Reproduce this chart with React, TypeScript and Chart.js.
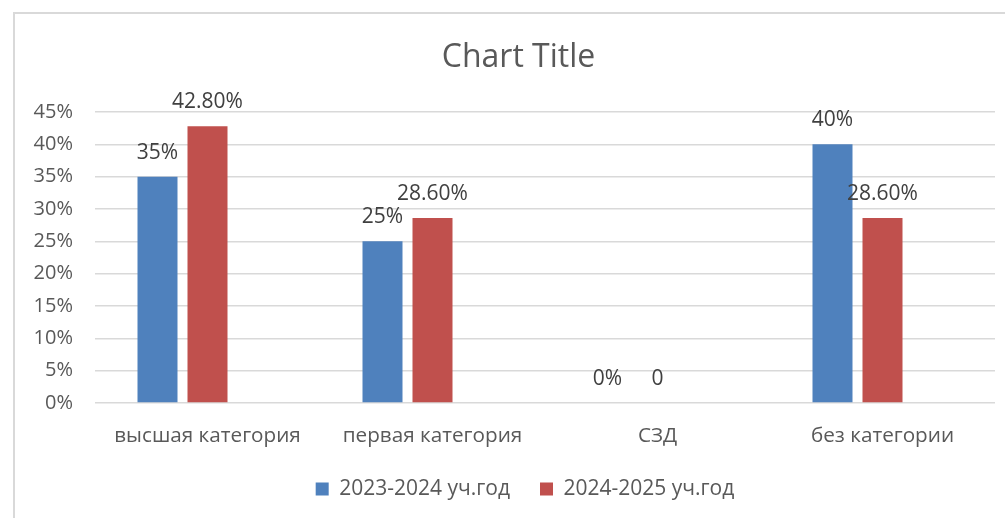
import React, { useEffect, useRef } from "react";
import { Chart, registerables } from "chart.js";

Chart.register(...registerables);

const categories = ["высшая категория", "первая категория", "СЗД", "без категории"];
const series2023 = [0.35, 0.25, 0, 0.4];
const series2025 = [0.428, 0.286, 0, 0.286];
const seriesEmpty: (number | null)[] = [null, null, null, null];
const seriesNames = ["2023-2024 уч.год", "2024-2025 уч.год", ""];
const yTicks = [0, 0.05, 0.1, 0.15, 0.2, 0.25, 0.3, 0.35, 0.4, 0.45];

const FONT = "'Open Sans', 'Noto Sans', sans-serif";

const fmtBlue = (v: number) => `${Math.round(v * 100)}%`;
const fmtRed = (v: number) => (v === 0 ? "0" : `${(v * 100).toFixed(2)}%`);

const dataLabels = {
  id: "dataLabels",
  afterDatasetsDraw(chart: any) {
    const ctx = chart.ctx;
    ctx.save();
    ctx.font = `21px ${FONT}`;
    ctx.fillStyle = "#404040";
    ctx.textAlign = "center";
    ctx.textBaseline = "middle";
    [0, 1].forEach((di) => {
      const meta = chart.getDatasetMeta(di);
      const values = chart.data.datasets[di].data as number[];
      meta.data.forEach((el: any, i: number) => {
        const v = values[i];
        const txt = di === 0 ? fmtBlue(v) : fmtRed(v);
        ctx.fillText(txt, el.x, el.y - 24);
      });
    });
    ctx.restore();
  },
};

const boxTweaks = {
  id: "boxTweaks",
  beforeInit(chart: any) {
    const lg = chart.legend;
    if (!lg) return;
    const orig = lg.fit;
    lg.fit = function () {
      orig.call(this);
      this.height = 69.5;
    };
  },
  afterLayout(chart: any) {
    if (chart.legend) chart.legend.left = 55;
    if (chart.titleBlock) chart.titleBlock.left = 42;
  },
};

export default function App() {
  const ref = useRef<HTMLCanvasElement | null>(null);
  useEffect(() => {
    if (!ref.current) return;
    Chart.defaults.font.family = FONT;
    const chart = new Chart(ref.current, {
      type: "bar",
      data: {
        labels: categories,
        datasets: [
          { label: seriesNames[0], data: series2023, backgroundColor: "#4f81bd" },
          { label: seriesNames[1], data: series2025, backgroundColor: "#c0504d" },
          { label: seriesNames[2], data: seriesEmpty as any, backgroundColor: "#9bbb59" },
        ],
      },
      options: {
        animation: false,
        responsive: false,
        datasets: { bar: { categoryPercentage: 0.6667, barPercentage: 0.8 } },
        layout: { padding: { left: 0, right: 10, top: 0, bottom: 0 } },
        plugins: {
          title: {
            display: true,
            text: "Chart Title",
            color: "#595959",
            font: { family: FONT, size: 32, weight: "normal" },
            padding: { top: 39, bottom: 34.6 },
          },
          legend: {
            position: "bottom",
            labels: {
              color: "#595959",
              font: { family: FONT, size: 21 },
              boxWidth: 13,
              boxHeight: 13,
              padding: 30,
              filter: (item: any) => item.text !== "",
            },
          },
          tooltip: { enabled: false },
        },
        scales: {
          x: {
            grid: { display: false, drawTicks: false },
            border: { display: false },
            ticks: { color: "#595959", font: { family: FONT, size: 20.7 }, padding: 21 },
            afterFit: (s: any) => {
              s.height = 45.5;
            },
          },
          y: {
            min: 0,
            max: 0.45,
            grid: { color: "#d9d9d9", lineWidth: 1.5, drawTicks: false },
            border: { display: false },
            afterBuildTicks: (s: any) => {
              s.ticks = yTicks.map((v) => ({ value: v }));
            },
            ticks: {
              color: "#595959",
              font: { family: FONT, size: 20 },
              padding: 22,
              callback: (v: any) => `${Math.round(Number(v) * 100)}%`,
            },
            afterFit: (s: any) => {
              s.width = 95;
            },
          },
        },
      },
      plugins: [dataLabels, boxTweaks],
    });
    return () => chart.destroy();
  }, []);

  return (
    <div style={{ position: "absolute", left: 0, top: 0, width: 1005, height: 518, background: "#fff", overflow: "hidden" }}>
      <div
        style={{
          position: "absolute",
          left: 13,
          top: 12,
          width: 1100,
          height: 600,
          borderTop: "2px solid #d9d9d9",
          borderLeft: "2px solid #d9d9d9",
        }}
      />
      <canvas ref={ref} width={1005} height={518} style={{ position: "absolute", left: 0, top: 0, width: 1005, height: 518 }} />
    </div>
  );
}
